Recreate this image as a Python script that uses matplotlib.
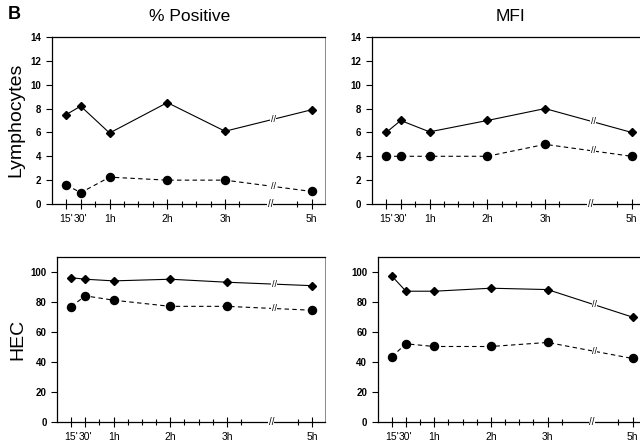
import numpy as np
import matplotlib.pyplot as plt

plt.rcParams['font.family'] = ['Liberation Sans', 'DejaVu Sans']

# time points in minutes; 5h drawn after an axis break
times = [15, 30, 60, 120, 180, 300]
tick_labels = ["15'", "30'", "1h", "2h", "3h", "5h"]

lym_pos_diamond = [7.5, 8.2, 5.95, 8.5, 6.1, 7.9]
lym_pos_circle = [1.6, 0.95, 2.25, 2.0, 2.0, 1.05]
lym_mfi_diamond = [6.0, 7.0, 6.05, 7.0, 8.0, 6.0]
lym_mfi_circle = [4.0, 4.0, 4.0, 4.0, 5.0, 4.0]
hec_pos_diamond = [96.3, 95.3, 94.2, 95.3, 93.3, 91.0]
hec_pos_circle = [77.0, 84.2, 81.3, 77.2, 77.2, 74.6]
hec_mfi_diamond = [97.5, 87.3, 87.3, 89.3, 88.4, 70.0]
hec_mfi_circle = [43.5, 52.2, 50.4, 50.4, 53.1, 42.4]

BREAK_GAP = 30   # minutes removed from the axis after the break
BREAK_AT = 227   # display position of the break


def tx(m):
    m = np.asarray(m, dtype=float)
    return np.where(m > 230, m - BREAK_GAP, m)


x = tx(times)
minor = tx([45, 75, 90, 105, 135, 150, 165, 195, 285])


def panel(rect, d_vals, c_vals, ymax, ystep, ytop):
    ax = fig.add_axes(rect)
    ax.plot(x, d_vals, '-', color='black', lw=0.8, marker='D', ms=4.2)
    ax.plot(x, c_vals, '--', color='black', lw=0.8, marker='o', ms=5.8,
            dashes=(4, 3))
    ax.set_xlim(0, 284)
    ax.set_ylim(0, ytop)
    ax.set_xticks(x)
    ax.set_xticklabels(tick_labels, fontsize=7.5)
    ax.set_xticks(minor, minor=True)
    ax.set_yticks(np.arange(0, ymax + 1, ystep))
    ax.tick_params(axis='y', labelsize=7, direction='out', length=4, width=0.8)
    ax.tick_params(axis='x', which='major', direction='inout', length=7, width=0.8,
                   pad=4)
    ax.tick_params(axis='x', which='minor', direction='inout', length=5, width=0.8)
    for lbl in ax.get_yticklabels():
        lbl.set_fontweight('bold')
    for s in ['top', 'left', 'bottom']:
        ax.spines[s].set_linewidth(0.9)
    ax.spines['right'].set_linewidth(0.6)
    ax.spines['right'].set_color('#777777')
    # break marks on the axis and on both lines
    ax.text(BREAK_AT, 0, '//', ha='center', va='center', fontsize=7,
            clip_on=False,
            bbox=dict(facecolor='white', edgecolor='none', pad=0.1))
    for vals in (d_vals, c_vals):
        yb = np.interp(BREAK_AT + 3, x, vals)
        ax.text(BREAK_AT + 3, yb, '//', ha='center', va='center', fontsize=6.5,
                bbox=dict(facecolor='white', edgecolor='none', pad=0.1))
    return ax


fig = plt.figure(figsize=(6.4, 4.43), dpi=100)

panel([0.081, 0.5395, 0.427, 0.377], lym_pos_diamond, lym_pos_circle, 14, 2, 14)
panel([0.581, 0.5395, 0.427, 0.377], lym_mfi_diamond, lym_mfi_circle, 14, 2, 14)
panel([0.089, 0.0474, 0.419, 0.372], hec_pos_diamond, hec_pos_circle, 100, 20, 110)
panel([0.590, 0.0474, 0.419, 0.372], hec_mfi_diamond, hec_mfi_circle, 100, 20, 110)

fig.text(0.012, 0.968, 'B', fontsize=13, fontweight='bold', ha='left', va='center')
fig.text(0.297, 0.962, '% Positive', fontsize=12.5, ha='center', va='center')
fig.text(0.797, 0.962, 'MFI', fontsize=12.5, ha='center', va='center')
fig.text(0.025, 0.73, 'Lymphocytes', fontsize=14, rotation=90, ha='center', va='center')
fig.text(0.028, 0.233, 'HEC', fontsize=14, rotation=90, ha='center', va='center')

fig.savefig('out.png', dpi=100)
